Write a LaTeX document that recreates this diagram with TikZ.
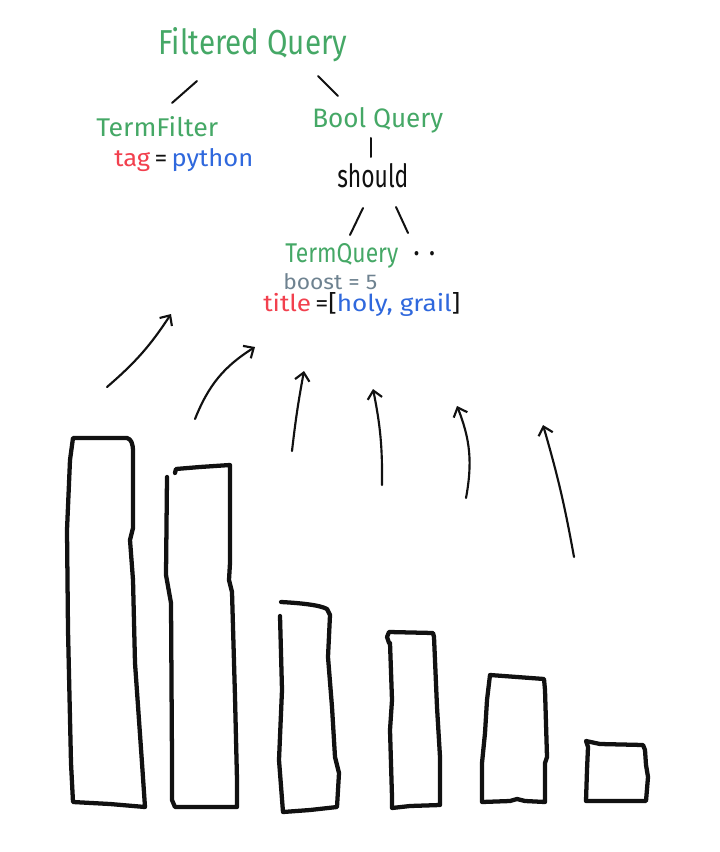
\documentclass[tikz,border=0pt]{standalone}
\usepackage{fontspec}
\setmainfont{Fira Sans}
\usetikzlibrary{arrows.meta}
\newlength\pxu
\setlength\pxu{0.75pt}
\newcommand\hw[3]{\resizebox{#1\pxu}{#2\pxu}{#3}}
\definecolor{hgreen}{HTML}{45A866}
\definecolor{hred}{HTML}{F2404E}
\definecolor{hblue}{HTML}{2F68DD}
\definecolor{hgray}{HTML}{6E8290}
\definecolor{hink}{HTML}{111111}
\begin{document}
\begin{tikzpicture}[x=0.75pt,y=-0.75pt,
  txt/.style={inner sep=0pt, anchor=base west},
  link/.style={line width=1.5pt, line cap=round, draw=hink},
  arr/.style={line width=1.6pt, line cap=round, draw=hink,
    -{Straight Barb[length=6pt,width=11pt,line width=1.6pt]}},
  bar/.style={line width=3.2pt, line join=round, line cap=round, draw=hink}]
\useasboundingbox[fill=white] (0,0) rectangle (720,852);

% ---- text nodes ----
\node[txt] (fq) at (158,55) {\hw{189}{27}{\color{hgreen}Filtered Query}};
\node[txt] (tf) at (96,137) {\hw{122}{20}{\color{hgreen}TermFilter}};
\node[txt] (tag) at (114,167) {\hw{139}{18}{\color{hred}tag\color{hink}\,=\,\color{hblue}python}};
\node[txt] (bq) at (312,128) {\hw{131}{20}{\color{hgreen}Bool Query}};
\node[txt] (should) at (337,188) {\hw{71}{24}{\color{hink}should}};
\node[txt] (tq) at (285,262) {\hw{113}{19}{\color{hgreen}TermQuery}};
\node[txt] (more) at (413,255) {\hw{22}{4}{\color{hink}.\,\,.}};
\node[txt] (boost) at (283,289) {\hw{94}{16}{\color{hgray}boost = 5}};
\node[txt] (title) at (263,311) {\hw{197}{19}{\color{hred}title\,\color{hink}=[\color{hblue}holy, grail\color{hink}]}};

% ---- tree connectors ----
\coordinate (fq-l) at (197,81);  \coordinate (tf-t) at (172,103);
\coordinate (fq-r) at (318,76);  \coordinate (bq-t) at (338,96);
\coordinate (bq-b) at (371,138); \coordinate (sh-t) at (371,157);
\coordinate (sh-l) at (363,208); \coordinate (tq-t) at (350,235);
\coordinate (sh-r) at (396,207); \coordinate (mo-t) at (408,233);
\draw[link] (fq-l) -- (tf-t);
\draw[link] (fq-r) -- (bq-t);
\draw[link] (bq-b) -- (sh-t);
\draw[link] (sh-l) -- (tq-t);
\draw[link] (sh-r) -- (mo-t);

% ---- arrows ----
\coordinate (a1s) at (107,387); \coordinate (a1e) at (171,314);
\coordinate (a2s) at (195,419); \coordinate (a2e) at (255,347);
\coordinate (a3s) at (292,451); \coordinate (a3e) at (304,371);
\coordinate (a4s) at (382,485); \coordinate (a4e) at (373,389);
\coordinate (a5s) at (466,498); \coordinate (a5e) at (457,406);
\coordinate (a6s) at (574,557); \coordinate (a6e) at (543,425);
\draw[arr] (a1s) to[bend right=8] (a1e);
\draw[arr] (a2s) to[bend left=18] (a2e);
\draw[arr] (a3s) to[bend left=2] (a3e);
\draw[arr] (a4s) to[bend right=6] (a4e);
\draw[arr] (a5s) to[bend right=16] (a5e);
\draw[arr] (a6s) to[bend right=3] (a6e);

% ---- bars ----
\draw[bar] (73,438) -- (127,438) .. controls (131,439) and (133,443) .. (133,452)
  -- (133,528) -- (130,540) -- (133,580) -- (135,663) -- (142,763) -- (145,807)
  -- (110,804) -- (73,802) -- (71,763) -- (68,630) -- (67,530) -- (70,460) -- cycle;
\draw[bar] (175,473) -- (176,469) -- (200,467) -- (230,465) -- (230,563) -- (229,580)
  -- (232,592) -- (235,697) -- (237,780) -- (237,807) -- (200,807) -- (175,807) -- (172,800)
  -- (172,760) -- (171,603) -- (166,575) -- (167,477);
\draw[bar] (281,602) .. controls (300,603) and (320,605) .. (327,609) -- (330,615)
  -- (328,657) -- (332,707) -- (335,757) -- (339,773) -- (337,807) -- (310,810) -- (283,812)
  -- (279,760) -- (282,690) -- (280,616);
\draw[bar] (389,643) -- (387,637) -- (389,632) -- (433,633) -- (434,637) -- (437,707)
  -- (440,757) -- (440,805) -- (410,806) -- (392,808) -- (392,797) -- (390,730) -- (392,700) -- (390,643);
\draw[bar] (490,675) -- (544,679) -- (545,690) -- (547,757) -- (545,763) -- (545,802)
  -- (525,801) -- (517,799) -- (510,801) -- (482,802) -- (482,763) -- (485,733) -- (487,700) -- cycle;
\draw[bar] (586,741) -- (600,744) -- (643,745) -- (645,750) -- (646,765) -- (648,777)
  -- (646,801) -- (586,801) -- (587,770) -- (588,747) -- cycle;
\end{tikzpicture}
\end{document}
